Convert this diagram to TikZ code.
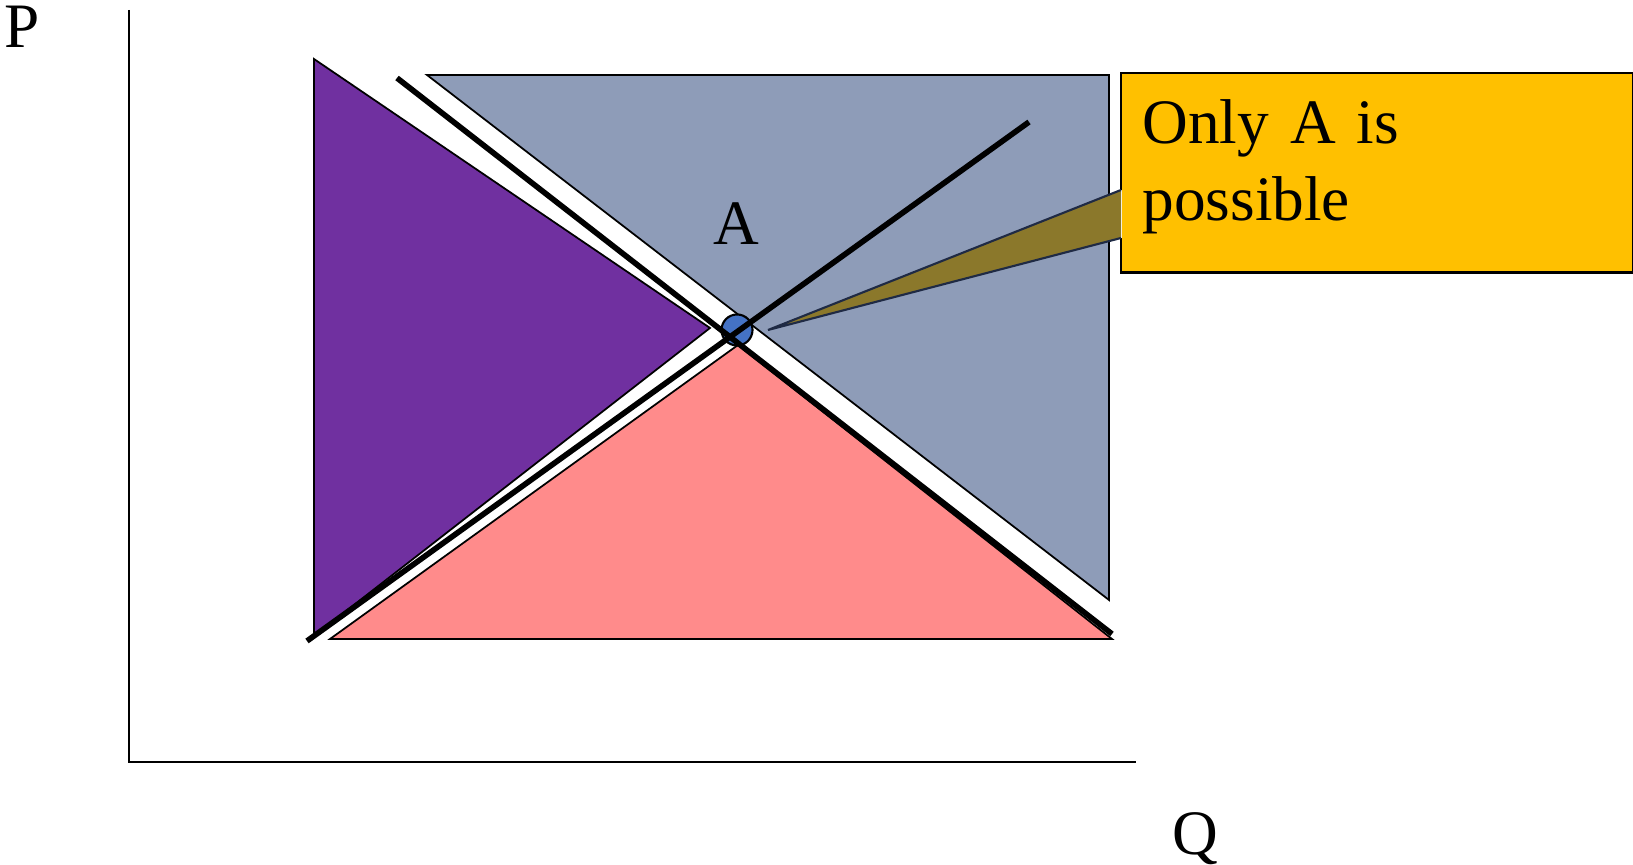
\documentclass[tikz,border=0pt]{standalone}
\usepackage{fontspec}
\setmainfont{Liberation Serif}
\usepackage{tikz}
\usetikzlibrary{positioning, calc}
\definecolor{regionpurple}{HTML}{7030A0}
\definecolor{regiongray}{HTML}{8E9CB8}
\definecolor{regionpink}{HTML}{FF8B8B}
\definecolor{eqblue}{HTML}{4472C4}
\definecolor{calloutgold}{HTML}{FFC000}
\definecolor{pointerolive}{HTML}{8B782B}
\definecolor{pointeredge}{HTML}{1F2A44}

\begin{document}
\begin{tikzpicture}[
  x=0.01cm, y=-0.01cm,
  region/.style={fill=#1, draw=black, line width=0.5pt},
  curve/.style={draw=black, line width=1.6pt},
  axis/.style={draw=black, line width=0.6pt},
  lbl/.style={font=\fontsize{18}{22}\selectfont, inner sep=0pt, anchor=base},
  notebox/.style={
    fill=calloutgold, anchor=north west, text width=4.69cm, inner xsep=0.208cm,
    minimum height=1.98cm, align=left, font=\fontsize{18}{22}\selectfont,
  },
]
  \useasboundingbox (0,0) rectangle (1633,865);

  % Axes
  \coordinate (ptop) at (129,10);
  \coordinate (origin) at (129,762);
  \coordinate (qend) at (1136,762);
  \draw[axis] (ptop) -- (origin) -- (qend);
  \node[lbl] (plabel) at (22,48) {P};
  \node[lbl] (qlabel) at (1195,855) {Q};

  % Regions
  \draw[region=regionpurple] (314,59) -- (710,328) -- (314,636) -- cycle;
  \draw[region=regiongray] (427,75) -- (1109,75) -- (1109,600) -- cycle;
  \draw[region=regionpink] (738,345) -- (1112,639) -- (330,639) -- cycle;

  % Equilibrium point
  \node[circle, fill=eqblue, draw=black, line width=0.6pt, minimum size=0.31cm,
        inner sep=0pt] (eq) at (737,330) {};

  % Demand and supply
  \coordinate (dstart) at (397,78);
  \coordinate (dend) at (1112,634);
  \coordinate (sstart) at (307,641);
  \coordinate (send) at (1029,122);
  \draw[curve] (dstart) -- (dend);
  \draw[curve] (sstart) -- (send);

  \node[lbl] (alabel) at (736,245) {A};

  % Callout
  \coordinate (j1) at (1121,190);
  \coordinate (j2) at (1121,238);
  \coordinate (tip) at (768,330);
  \fill[pointerolive] (j1) -- (tip) -- (j2) -- cycle;
  \node[notebox] (note) at (1121,73) {Only A is\\possible\rule[-7.3pt]{0pt}{7.3pt}};
  \draw[line width=0.6pt] (j1) -- (note.north west) -- (note.north east)
    -- (note.south east) -- (note.south west) -- (j2);
  \draw[pointeredge, line width=0.6pt] (j2) -- (tip) -- (j1);
\end{tikzpicture}
\end{document}
